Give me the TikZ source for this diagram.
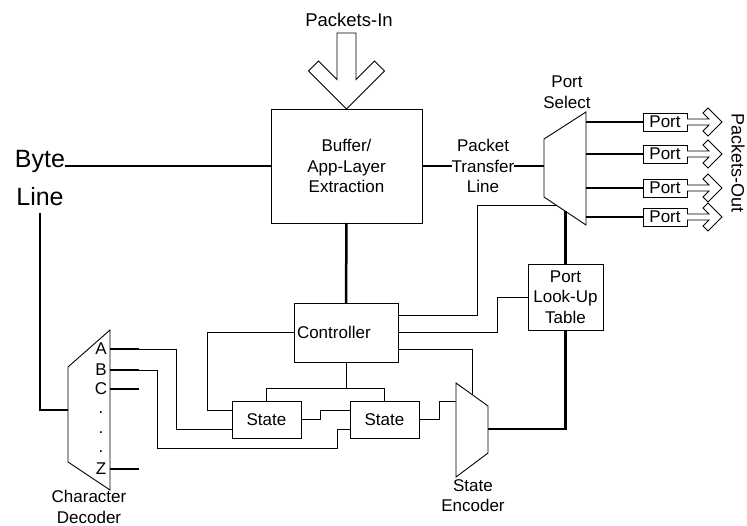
\documentclass[tikz,border=0pt]{standalone}
\usepackage{fontspec}
\setmainfont{Liberation Sans}
\begin{document}
\begin{tikzpicture}[x=1pt,y=-1pt,
  thinln/.style={line width=0.9pt},
  thickln/.style={line width=2.5pt},
  txt/.style={inner sep=0pt, outer sep=0pt, align=center, font=\fontsize{17}{20.5}\selectfont},
  box/.style={txt, draw, line width=0.9pt},
  portbox/.style={box, minimum width=44pt, minimum height=18pt},
  statebox/.style={box, minimum width=69pt, minimum height=37pt},
  trap/.style={line width=0.9pt, line join=miter}]
\useasboundingbox (0,0) rectangle (747,526);

% ---------- boxes ----------
\node[box, minimum width=151pt, minimum height=114pt] (buf) at (346.5,166) {Buffer/\\App-Layer\\Extraction};
\node[box, minimum width=104pt, minimum height=59pt] (ctl) at (346,332.5) {};
\node[txt, anchor=west] (ctltxt) at (297,332) {Controller};
\node[statebox] (s1) at (266.5,419.5) {State};
\node[statebox] (s2) at (384.5,419.5) {State};
\node[box, minimum width=75pt, minimum height=66pt] (lut) at (565.5,297) {Port\\Look-Up\\Table};
\foreach \i/\yy in {1/122,2/154,3/188,4/217}{
  \node[portbox] (p\i) at (665,\yy) {Port};
}

% ---------- labels ----------
\node[txt, font=\fontsize{18.5}{22}\selectfont] (pin) at (349,20) {Packets-In};
\node[txt, font=\fontsize{25}{31}\selectfont] (byte) at (40,161) {Byte};
\node[txt, font=\fontsize{25}{31}\selectfont] (linet) at (40,197) {Line};
\node[txt] (ptl) at (483,166) {Packet\\Transfer\\Line};
\node[txt] (ps) at (567,92) {Port\\Select};
\node[txt] (cd) at (89,507) {Character\\Decoder};
\node[txt] (se) at (473,495.5) {State\\Encoder};
\node[txt, font=\fontsize{18}{22}\selectfont, rotate=-90] (pout) at (738,163) {Packets-Out};

% ---------- character decoder ----------
\coordinate (dtl) at (68,367);
\coordinate (dtr) at (110,330);
\coordinate (dbr) at (110,490);
\coordinate (dbl) at (68,462);
\draw[trap] (dtl) -- (dtr) -- (dbr) -- (dbl) -- cycle;
\foreach \n/\yy in {A/349,B/370,C/389,Z/469}{
  \node[txt] (l\n) at (101,\yy) {\n};
  \coordinate (o\n) at (110,\yy);
  \coordinate (e\n) at (139,\yy);
  \draw[thickln] (o\n) -- (e\n);
}
\foreach \yy [count=\k] in {413,433,452}{
  \node[txt] (dot\k) at (101,\yy) {.};
}

% ---------- state encoder ----------
\coordinate (etl) at (456,383);
\coordinate (etr) at (488,406);
\coordinate (ebr) at (488,453);
\coordinate (ebl) at (456,477);
\draw[trap] (etl) -- (etr) -- (ebr) -- (ebl) -- cycle;

% ---------- port select ----------
\coordinate (ptlft) at (544,139);
\coordinate (ptrt) at (586,112);
\coordinate (pbrt) at (586,225);
\coordinate (pblft) at (544,197);
\draw[trap] (ptlft) -- (ptrt) -- (pbrt) -- (pblft) -- cycle;

% ---------- thick connectors ----------
\draw[thickln] (buf.west) -- (buf.west -| byte.east);
\coordinate (din) at (68,410);
\draw[thickln] ([yshift=-7pt]linet.south) -- (linet.south |- din) -- (din);
\draw[thickln] (buf.south) -- (ctl.north);
\draw[thickln] (buf.east) -- (buf.east -| ptl.west);
\coordinate (psin) at (544,166);
\draw[thickln] (ptl.east |- psin) -- (psin);
\foreach \i in {1,...,4}{
  \draw[thickln] (p\i.west -| pbrt) -- (p\i.west);
}
\coordinate (eout) at (488,429);
\draw[thickln] (eout) -- (eout -| lut.south) -- (lut.south);
\coordinate (psbot) at (565.5,211);
\draw[thickln] (lut.north) -- (psbot);

% ---------- thin connectors ----------
\draw[thinln] (eA) -- (176,349) -- (176,429) -- (s1.west |- 0,429);
\draw[thinln] (eB) -- (157,370) -- (157,448) -- (337,448) -- (337,429) -- (s2.west |- 0,429);
\draw[thinln] (ctl.west) -- (207,332.5) -- (207,410) -- (s1.west |- 0,410);
\coordinate (cb) at (346,388);
\draw[thinln] (ctl.south) -- (cb);
\draw[thinln] (s1.north) -- (s1.north |- cb) -- (s2.north |- cb) -- (s2.north);
\draw[thinln] (s1.east) -- (320,419.5) -- (320,410) -- (s2.west |- 0,410);
\draw[thinln] (s2.east) -- (439,419.5) -- (439,401) -- (456,401);
\draw[thinln] (ctl.east |- 0,315) -- (477,315) -- (477,205) -- (556,205);
\draw[thinln] (ctl.east) -- (497,332.5) -- (497,297) -- (lut.west);
\draw[thinln] (ctl.east |- 0,349) -- (472,349) -- (472,394.5);

% ---------- big arrows ----------
\draw[thinln, line join=miter] (337,33) -- (337,79.5) -- (318.5,61) -- (308.5,71) -- (346.5,109)
  -- (384.5,71) -- (374.5,61) -- (356,79.5) -- (356,33) -- cycle;
\foreach \i/\yy in {1/122,2/154,3/188,4/217}{
  \draw[line width=0.8pt, line join=miter, fill=white] (p\i.east |- 0,\yy-3) -- (709,\yy-3) -- (703,\yy-9) -- (708,\yy-14)
    -- (722,\yy) -- (708,\yy+14) -- (703,\yy+9) -- (709,\yy+3) -- (p\i.east |- 0,\yy+3);
}
\end{tikzpicture}
\end{document}
